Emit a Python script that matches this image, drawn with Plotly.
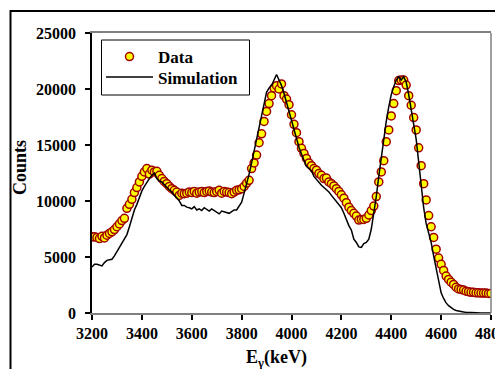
import plotly.graph_objects as go

# ---- data ----
data_energy = list(range(3200, 4801, 10))
data_counts = [
    6800, 6800, 6750, 6650, 6850, 6700, 6950, 7100, 7250, 7450, 7700, 7950, 8250, 8450,
    9350, 9700, 10150, 10750, 11200, 11700, 12200, 12600,
    12900, 12400, 12750, 12600, 12650, 12300, 12000, 11750, 11550, 11300, 11100, 10950,
    10800, 10500, 10700, 10650, 10700, 10800, 10750, 10850, 10700, 10800, 10850, 10750,
    10850, 10900, 10800, 10750, 10850, 10950, 10700, 10850, 10800, 10750, 10650, 10800,
    10950, 11000, 11100, 11300, 11600, 11850,
    12900, 13400, 14100, 15200, 16000, 17100, 18000, 18700, 19400, 20100, 20300, 20000, 20450,
    19400, 19100, 18600, 17700, 16850, 16100, 15300, 14700, 14250, 13800, 13400, 13150,
    12900, 12750, 12450, 12300, 12000, 12050, 11700, 11550, 11350, 11100, 10850, 10550,
    10250, 9850, 9450, 9150, 8900, 8650, 8300, 8350, 8350, 8450, 8750, 9150, 9550, 10400,
    11700, 12600, 13600, 15300, 16350, 17600, 18700, 19850, 20750, 20800, 20800, 20350,
    19400, 18550, 17450, 16350, 14750, 13150, 11550, 10100, 8700, 7700, 6750, 5700, 4900,
    4350, 3800, 3300, 3000, 2750, 2550, 2300, 2150, 2100, 2050, 1950, 1900, 1850, 1850,
    1800, 1800, 1780, 1780, 1780, 1750, 1750,
]

sim_energy = list(range(3200, 4801, 10))
sim_counts = [
    4100, 4350, 4350, 4300, 4200, 4500, 4700, 4750, 4800, 5100, 5500, 5900, 6300, 6700,
    7000, 7700, 8500, 9200, 9700, 10300, 10900, 11300, 11700, 12000, 12300, 12500,
    12000, 11800, 11700, 11400, 11200, 11000, 10800, 10500, 10300, 10000,
    9600, 9600, 9450, 9400, 9300, 9500, 9200, 9300, 9150, 9400, 9250, 9100, 9300, 9150,
    9000, 8850, 9100, 9050, 8950, 8900, 9050, 9200, 9200, 9500,
    9900, 10700, 11500, 12400, 13400, 14500, 15600, 16700, 17800, 18800, 19700, 20100,
    20300, 20800, 21300, 20800, 20300, 19600, 18800, 17800,
    17000, 16200, 15500, 14800, 14200, 13600, 13100, 12900, 12700, 12200,
    11900, 11700, 11400, 11200, 11000, 10800, 10500, 10200, 10000, 9700,
    9400, 8900, 8300, 7800, 7400, 6600, 6300, 5900, 5850, 6200,
    6300, 6600, 7500, 8800, 10400, 12200, 14000, 15600, 17100, 18400,
    19500, 20200, 20800, 21100, 20800, 21100, 20600, 19500, 18200, 17000,
    15500, 13500, 11300, 9400, 8000, 7200, 6300, 5100, 3900, 2700,
    1800, 1300, 900, 650, 450, 320, 230, 170, 120, 90,
    60, 40, 30, 20, 10, 5, 0, 0, 0, 0, 0,
]

x_ticks = [3200, 3400, 3600, 3800, 4000, 4200, 4400, 4600, 4800]
y_ticks = [0, 5000, 10000, 15000, 20000, 25000]

FONT = "Liberation Serif, Times New Roman, serif"

fig = go.Figure()
fig.add_trace(go.Scatter(
    x=data_energy, y=data_counts, mode="markers", name="Data", legend="legend",
    marker=dict(symbol="circle", size=8, color="#FFFF00",
                line=dict(color="#A00000", width=1.5)),
))
fig.add_trace(go.Scatter(
    x=sim_energy, y=sim_counts, mode="lines", name="Simulation", legend="legend2",
    line=dict(color="black", width=1.5),
))

W, H = 511, 361
OFF = 8  # page body margin offset
# desired on-screen plot box
SX0, SX1, SY0, SY1 = 92, 491, 33, 313
L = SX0 - OFF
T = SY0 - OFF
R = W - (SX1 - OFF)
B = H - (SY1 - OFF)
pw = W - L - R
ph = H - T - B

def px2paper_x(sx):
    return (sx - OFF - L) / pw

def px2paper_y(sy):
    return (H - B - (sy - OFF)) / ph

leg_common = dict(
    xanchor="left", yanchor="middle",
    borderwidth=0, bgcolor="rgba(0,0,0,0)",
    font=dict(family=FONT, size=17, color="black", weight="bold"),
    itemwidth=47,
)

fig.update_layout(
    width=W, height=H,
    margin=dict(l=L, r=R, t=T, b=B, autoexpand=False),
    paper_bgcolor="white", plot_bgcolor="white",
    font=dict(family=FONT, color="black", size=16, weight="bold"),
    showlegend=True,
    legend=dict(x=px2paper_x(101), y=px2paper_y(57), **leg_common),
    legend2=dict(x=px2paper_x(101), y=px2paper_y(77.5), **leg_common),
    xaxis=dict(
        range=[3200, 4800], tickvals=x_ticks, ticktext=[str(v) for v in x_ticks],
        showgrid=False, zeroline=False, automargin=False,
        showline=True, linecolor="#808080", linewidth=1.5, mirror=True,
        ticks="outside", ticklen=5, tickcolor="black", tickwidth=1.5,
        tickfont=dict(family=FONT, size=16, color="black", weight="bold"),
    ),
    yaxis=dict(
        range=[0, 25000], tickvals=y_ticks, ticktext=[str(v) for v in y_ticks],
        showgrid=False, zeroline=False, automargin=False,
        showline=True, linecolor="black", linewidth=1.5,
        ticks="outside", ticklen=5, tickcolor="black", tickwidth=1.5,
        tickfont=dict(family=FONT, size=16, color="black", weight="bold"),
        ticklabelstandoff=6,
    ),
    shapes=[
        dict(type="line", xref="paper", yref="paper", x0=1, x1=1, y0=0, y1=1,
             line=dict(color="#808080", width=1.5)),
        dict(type="rect", xref="paper", yref="paper",
             x0=px2paper_x(10.5), x1=px2paper_x(530), y0=px2paper_y(390), y1=px2paper_y(11),
             line=dict(color="black", width=2), fillcolor="rgba(0,0,0,0)", layer="below"),
        # legend frame
        dict(type="rect", xref="paper", yref="paper",
             x0=px2paper_x(101.5), x1=px2paper_x(249.5), y0=px2paper_y(95), y1=px2paper_y(40),
             line=dict(color="black", width=1), fillcolor="white", layer="above"),
    ],
    annotations=[
        dict(text="Counts", xref="paper", yref="paper",
             x=px2paper_x(20), y=px2paper_y(168), textangle=-90,
             showarrow=False, xanchor="center", yanchor="middle",
             font=dict(family=FONT, size=18, color="black", weight="bold")),
        dict(text="E<sub>γ</sub>(keV)", xref="paper", yref="paper",
             x=px2paper_x(276), y=px2paper_y(358),
             showarrow=False, xanchor="center", yanchor="middle",
             font=dict(family=FONT, size=18, color="black", weight="bold")),
    ],
)

fig.write_html("out.html")
